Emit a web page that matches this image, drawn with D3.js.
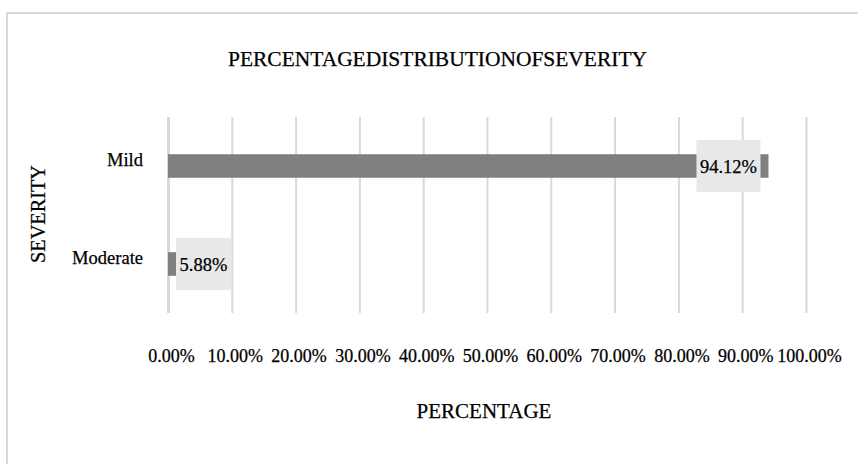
<!DOCTYPE html>
<html>
<head>
<meta charset="utf-8">
<script src="https://cdn.jsdelivr.net/npm/d3@7/dist/d3.min.js"></script>
<style>
  html, body { margin: 0; padding: 0; background: #fff; }
  svg { display: block; font-family: "Liberation Serif", "Times New Roman", serif; }
  text { stroke: #000; stroke-width: 0.25px; }
</style>
</head>
<body>
<svg id="chart" width="858" height="464"></svg>
<script>
// Severity categories and their share of cases
const categories = ["Mild", "Moderate"];
const percentages = [0.9412, 0.0588];
const valueLabels = ["94.12%", "5.88%"];
const tickValues = [0, 0.1, 0.2, 0.3, 0.4, 0.5, 0.6, 0.7, 0.8, 0.9, 1.0];
const tickLabels = ["0.00%", "10.00%", "20.00%", "30.00%", "40.00%", "50.00%",
                    "60.00%", "70.00%", "80.00%", "90.00%", "100.00%"];
const chartTitle = "PERCENTAGEDISTRIBUTIONOFSEVERITY";
const xTitle = "PERCENTAGE";
const yTitle = "SEVERITY";

const svg = d3.select("#chart");

// outer chart frame (runs past the right and bottom edges)
svg.append("rect")
  .attr("x", 7).attr("y", 13)
  .attr("width", 900).attr("height", 500)
  .attr("fill", "#fff")
  .attr("stroke", "#d9d9d9")
  .attr("stroke-width", 2);

const plot = { left: 168, right: 806, top: 117, bottom: 313 };

const x = d3.scaleLinear().domain([0, 1]).range([plot.left, plot.right]);
const y = d3.scaleBand().domain(categories).range([plot.top, plot.bottom]).padding(0);

// vertical gridlines + tick labels
const axis = d3.axisBottom(x)
  .tickValues(tickValues)
  .tickFormat((d, i) => tickLabels[i])
  .tickSize(-(plot.bottom - plot.top))
  .tickPadding(36);

const gx = svg.append("g")
  .attr("transform", `translate(0,${plot.bottom})`)
  .call(axis);
gx.select(".domain").remove();
gx.selectAll(".tick line")
  .attr("stroke", "#d9d9d9")
  .attr("stroke-width", (d) => d === 0 ? 3 : 2);
gx.selectAll(".tick text")
  .attr("x", 3)
  .attr("fill", "#000")
  .style("font-family", "'Liberation Serif', serif")
  .style("font-size", "18px");

// bars
const bw = y.bandwidth();
svg.append("g").selectAll("rect")
  .data(categories)
  .join("rect")
  .attr("x", x(0))
  .attr("y", (d) => y(d) + bw * 0.38)
  .attr("width", (d, i) => x(percentages[i]) - x(0))
  .attr("height", bw * 0.24)
  .attr("fill", "#7f7f7f");

// value callouts
const boxes = [
  { x0: (i) => x(percentages[i]) - 72, w: 64 },
  { x0: (i) => x(0) + 8, w: 55 }
];
const lbl = svg.append("g").selectAll("g")
  .data(categories)
  .join("g");
lbl.append("rect")
  .attr("x", (d, i) => boxes[i].x0(i))
  .attr("y", (d) => y(d) + bw / 2 - 26)
  .attr("width", (d, i) => boxes[i].w)
  .attr("height", 52)
  .attr("fill", "#e8e8e8");
lbl.append("text")
  .attr("x", (d, i) => boxes[i].x0(i) + boxes[i].w / 2)
  .attr("y", (d) => y(d) + bw / 2 + 7)
  .attr("text-anchor", "middle")
  .attr("font-size", 18.5)
  .attr("fill", "#000")
  .text((d, i) => valueLabels[i]);

// category labels
svg.append("g").selectAll("text")
  .data(categories)
  .join("text")
  .attr("x", 143)
  .attr("y", (d) => y(d) + bw / 2 + 0)
  .attr("text-anchor", "end")
  .attr("font-size", 18.5)
  .attr("fill", "#000")
  .text((d) => d);

// titles
svg.append("text")
  .attr("x", 228).attr("y", 65.5)
  .attr("textLength", 419)
  .attr("lengthAdjust", "spacingAndGlyphs")
  .attr("font-size", 20.5)
  .attr("fill", "#000")
  .text(chartTitle);

svg.append("text")
  .attr("x", 484).attr("y", 418)
  .attr("text-anchor", "middle")
  .attr("font-size", 21)
  .attr("fill", "#000")
  .text(xTitle);

svg.append("text")
  .attr("transform", "translate(45,214) rotate(-90)")
  .attr("text-anchor", "middle")
  .attr("font-size", 20.3)
  .attr("fill", "#000")
  .text(yTitle);
</script>
</body>
</html>
